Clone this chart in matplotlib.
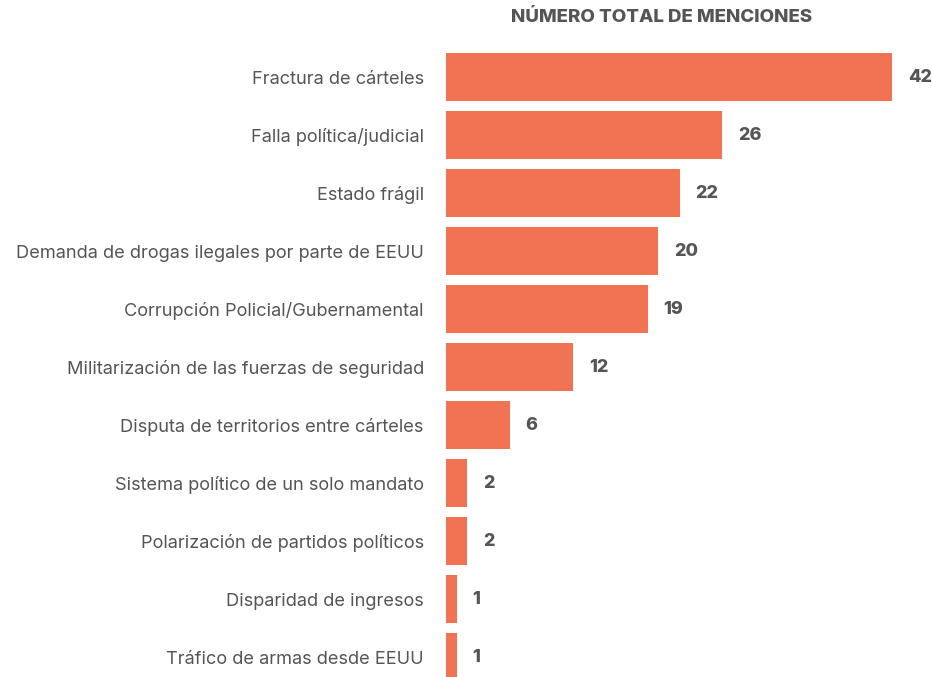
import matplotlib.pyplot as plt

categorias = [
    "Fractura de cárteles",
    "Falla política/judicial",
    "Estado frágil",
    "Demanda de drogas ilegales por parte de EEUU",
    "Corrupción Policial/Gubernamental",
    "Militarización de las fuerzas de seguridad",
    "Disputa de territorios entre cárteles",
    "Sistema político de un solo mandato",
    "Polarización de partidos políticos",
    "Disparidad de ingresos",
    "Tráfico de armas desde EEUU",
]
menciones = [42, 26, 22, 20, 19, 12, 6, 2, 2, 1, 1]

color_barra = "#F27254"
gris = "#555555"

plt.rcParams["font.family"] = ["Inter", "DejaVu Sans"]

fig = plt.figure(figsize=(9.32, 6.77), dpi=100)
ax = fig.add_axes([446 / 932, 0, 446 / 932, 1])

pos = list(range(len(categorias)))
ax.barh(pos, menciones, height=0.83, color=color_barra)

for y, v in zip(pos, menciones):
    ax.annotate(str(v), (v, y), xytext=(11.5, 0), textcoords="offset points",
                va="center", ha="left", fontsize=13, fontweight="heavy", color=gris)

ax.set_xlim(0, 42)
ax.set_ylim(600 / 58, -77 / 58)
ax.set_yticks(pos)
ax.set_yticklabels(categorias, fontsize=13.1, color=gris)
ax.tick_params(axis="y", length=0, pad=16)
ax.set_xticks([])
for s in ax.spines.values():
    s.set_visible(False)

fig.text(662 / 932, 1 - 18 / 677, "NÚMERO TOTAL DE MENCIONES", ha="center", va="center",
         fontsize=13.5, fontweight="heavy", color=gris)

fig.savefig("out.png", dpi=100)
